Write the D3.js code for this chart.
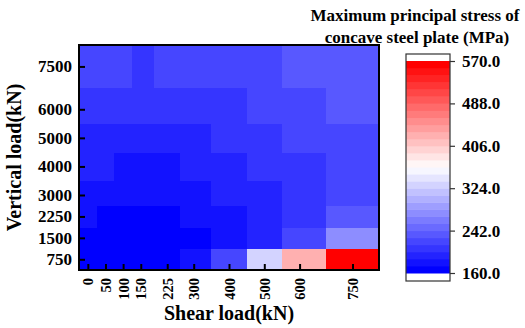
<!DOCTYPE html>
<html>
<head>
<meta charset="utf-8">
<script src="https://cdn.jsdelivr.net/npm/d3@7"></script>
<style>
  body { margin: 0; background: #fff; }
  text { font-family: "Liberation Serif", "Times New Roman", serif; font-weight: bold; fill: #000; }
</style>
</head>
<body>
<div id="chart"></div>
<script>
// data
const shearLoads = [0, 50, 100, 150, 225, 300, 400, 500, 600, 750];
const verticalLoads = [750, 1500, 2250, 3000, 4000, 5000, 6000, 7500];
// one row per vertical load (same order as verticalLoads), one value per shear load
const stress = [
    [167, 166, 165, 165, 167, 180, 221, 331, 426, 570],
    [166, 165, 164, 164, 165, 168, 181, 195, 222, 276],
    [176, 171, 170, 170, 172, 178, 183, 196, 208, 235],
    [184, 182, 181, 181, 182, 186, 193, 197, 210, 222],
    [191, 189, 185, 184, 185, 190, 196, 205, 210, 224],
    [196, 195, 194, 193, 194, 198, 204, 210, 217, 223],
    [206, 205, 205, 204, 205, 207, 212, 219, 225, 232],
    [218, 217, 216, 213, 216, 218, 222, 226, 233, 238]
];
const colorTicks = [160, 242, 324, 406, 488, 570];
const colorMin = 160, colorMax = 570, nLevels = 30;

const width = 525, height = 328;
const plot = { left: 79, right: 379, top: 45, bottom: 270 };

// cell edges sit half way between neighbouring loads
const edges = vals => {
    const e = [vals[0] - (vals[1] - vals[0]) / 2];
    for (let i = 1; i < vals.length; i++) e.push((vals[i - 1] + vals[i]) / 2);
    const n = vals.length;
    e.push(vals[n - 1] + (vals[n - 1] - vals[n - 2]) / 2);
    return e;
};
const xEdges = edges(shearLoads);
const yEdges = edges(verticalLoads);

const xScale = d3.scaleLinear()
    .domain([xEdges[0], xEdges[xEdges.length - 1]])
    .range([plot.left, plot.right]);
const yScale = d3.scaleLinear()
    .domain([yEdges[0], yEdges[yEdges.length - 1]])
    .range([plot.bottom, plot.top]);

// blue-white-red, cut into discrete levels
const bwr = d3.scaleLinear().domain([0, 0.5, 1]).range(['#0000ff', '#ffffff', '#ff0000']);
const levelColors = d3.range(nLevels).map(i => bwr(i / (nLevels - 1)));
const colorScale = d3.scaleQuantize().domain([colorMin, colorMax]).range(levelColors);

const svg = d3.select('#chart')
    .append('svg')
    .attr('width', width)
    .attr('height', height);

const cells = [];
verticalLoads.forEach((v, r) => {
    shearLoads.forEach((s, c) => {
        cells.push({ r, c, value: stress[r][c] });
    });
});

svg.append('g')
    .selectAll('rect')
    .data(cells)
    .join('rect')
        .attr('x', d => xScale(xEdges[d.c]))
        .attr('y', d => yScale(yEdges[d.r + 1]))
        .attr('width', d => xScale(xEdges[d.c + 1]) - xScale(xEdges[d.c]) + 0.5)
        .attr('height', d => yScale(yEdges[d.r]) - yScale(yEdges[d.r + 1]) + 0.5)
        .attr('fill', d => colorScale(d.value))
        .attr('shape-rendering', 'crispEdges');

// axes with inward ticks
const bottomAxis = d3.axisBottom(xScale).tickValues(shearLoads).tickFormat(d3.format('d'))
    .tickSizeInner(-6).tickSizeOuter(0);
const xAxisG = svg.append('g')
    .attr('transform', `translate(0, ${plot.bottom})`)
    .call(bottomAxis);
xAxisG.select('.domain').remove();
xAxisG.selectAll('line').attr('stroke', '#000').attr('stroke-width', 2);
xAxisG.selectAll('text')
    .attr('font-size', 14.5)
    .attr('text-anchor', 'end')
    .attr('transform', 'rotate(-90)')
    .attr('x', -8)
    .attr('y', 0)
    .attr('dy', '0.35em');

const leftAxis = d3.axisLeft(yScale).tickValues(verticalLoads).tickFormat(d3.format('d'))
    .tickSizeInner(-6).tickSizeOuter(0);
const yAxisG = svg.append('g')
    .attr('transform', `translate(${plot.left}, 0)`)
    .call(leftAxis);
yAxisG.select('.domain').remove();
yAxisG.selectAll('line').attr('stroke', '#000').attr('stroke-width', 2);
yAxisG.selectAll('text')
    .attr('font-size', 17)
    .attr('x', -7);

// frame
svg.append('rect')
    .attr('x', plot.left)
    .attr('y', plot.top)
    .attr('width', plot.right - plot.left)
    .attr('height', plot.bottom - plot.top)
    .attr('fill', 'none')
    .attr('stroke', '#000')
    .attr('stroke-width', 2);

svg.append('text')
    .text('Shear load(kN)')
    .attr('text-anchor', 'middle')
    .attr('font-size', 20)
    .attr('x', (plot.left + plot.right) / 2)
    .attr('y', 320);

svg.append('text')
    .text('Vertical load(kN)')
    .attr('text-anchor', 'middle')
    .attr('font-size', 20)
    .attr('transform', `translate(21, ${(plot.top + plot.bottom) / 2}) rotate(-90)`);

// colour bar
const cb = { left: 406, right: 450, top: 61, bottom: 273 };
const cbScale = d3.scaleLinear().domain([colorMin, colorMax]).range([cb.bottom, cb.top]);
const step = (colorMax - colorMin) / nLevels;

svg.append('rect')
    .attr('x', cb.left)
    .attr('y', 54)
    .attr('width', cb.right - cb.left)
    .attr('height', 281 - 54)
    .attr('fill', '#fff');

svg.append('g')
    .selectAll('rect')
    .data(levelColors)
    .join('rect')
        .attr('x', cb.left)
        .attr('y', (d, i) => cbScale(colorMin + (i + 1) * step))
        .attr('width', cb.right - cb.left)
        .attr('height', (d, i) => cbScale(colorMin + i * step) - cbScale(colorMin + (i + 1) * step) + 0.5)
        .attr('fill', d => d);

svg.append('rect')
    .attr('x', cb.left)
    .attr('y', 54)
    .attr('width', cb.right - cb.left)
    .attr('height', 281 - 54)
    .attr('fill', 'none')
    .attr('stroke', '#333')
    .attr('stroke-width', 1.2);

const cbAxis = d3.axisRight(cbScale).tickValues(colorTicks).tickFormat(d3.format('.1f')).tickSize(5);
const cbAxisG = svg.append('g')
    .attr('transform', `translate(${cb.right}, 0)`)
    .call(cbAxis);
cbAxisG.select('.domain').remove();
cbAxisG.selectAll('line').attr('stroke', '#333').attr('stroke-width', 1.2);
cbAxisG.selectAll('text')
    .attr('font-size', 17)
    .attr('x', 12);

svg.append('text')
    .text('Maximum principal stress of')
    .attr('text-anchor', 'middle')
    .attr('font-size', 17)
    .attr('x', 415)
    .attr('y', 21);

svg.append('text')
    .text('concave steel plate (MPa)')
    .attr('text-anchor', 'middle')
    .attr('font-size', 17)
    .attr('x', 417)
    .attr('y', 43);
</script>
</body>
</html>
